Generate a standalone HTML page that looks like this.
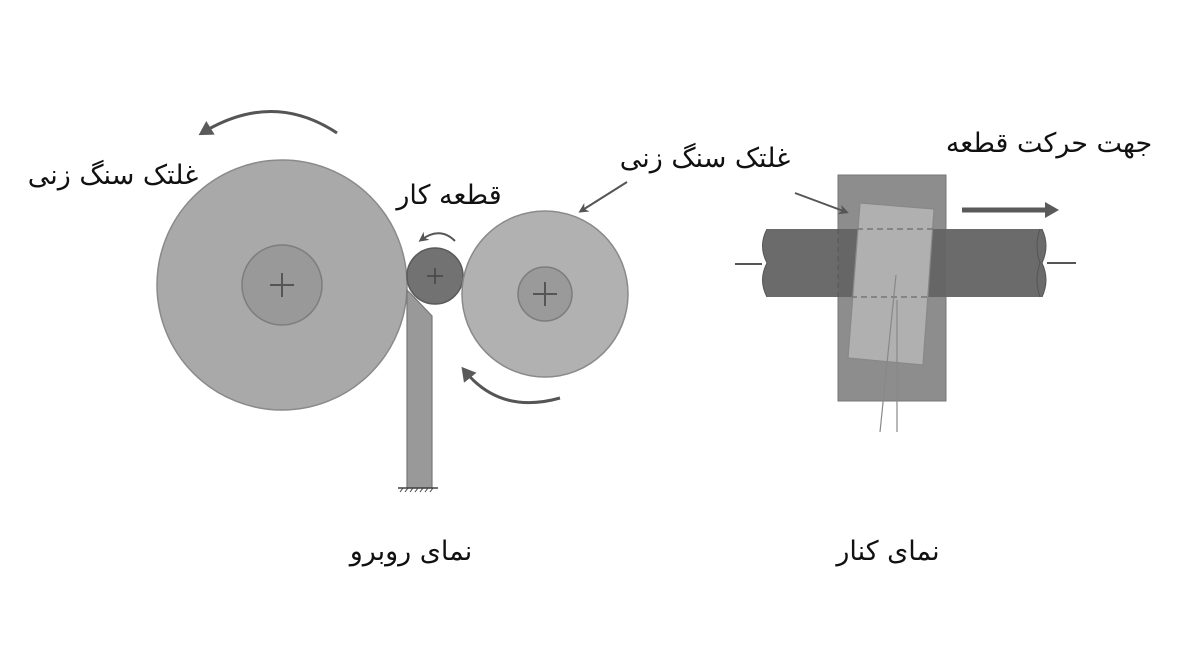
<!DOCTYPE html>
<html><head><meta charset="utf-8"><style>
html,body{margin:0;padding:0;background:#fff;}
svg{display:block;}
text{font-family:"DejaVu Sans","Noto Sans CJK SC",sans-serif;font-size:27px;fill:#111;}
</style></head><body>
<svg width="1200" height="653" viewBox="0 0 1200 653">
<defs>
<marker id="ah" markerWidth="10" markerHeight="10" refX="7" refY="5" orient="auto" markerUnits="userSpaceOnUse">
<path d="M0,0 L10,5 L0,10 L3,5 Z" fill="#555"/>
</marker>
<marker id="ah2" markerWidth="14" markerHeight="16" refX="10" refY="8" orient="auto" markerUnits="userSpaceOnUse">
<path d="M0,0 L14,8 L0,16 Z" fill="#5a5a5a"/>
</marker>
</defs>
<circle cx="282" cy="285" r="125" fill="#a9a9a9" stroke="#8a8a8a" stroke-width="1.5"/>
<circle cx="282" cy="285" r="40" fill="#999" stroke="#7d7d7d" stroke-width="1.5"/>
<path d="M270,285 H294 M282,273 V297" stroke="#555" stroke-width="2"/>
<path d="M407,290 L413,296 L432,316 L432,488 L407,488 Z" fill="#999" stroke="#777" stroke-width="1.2"/>
<path d="M398,488 H438" stroke="#444" stroke-width="1.5"/>
<path d="M400,492 l3,-4 M405,492 l3,-4 M410,492 l3,-4 M415,492 l3,-4 M420,492 l3,-4 M425,492 l3,-4 M430,492 l3,-4" stroke="#444" stroke-width="1"/>
<circle cx="435" cy="276" r="28" fill="#727272" stroke="#5a5a5a" stroke-width="1.5"/>
<path d="M427,276 H443 M435,268 V284" stroke="#444" stroke-width="1.5"/>
<circle cx="545" cy="294" r="83" fill="#b1b1b1" stroke="#8a8a8a" stroke-width="1.5"/>
<circle cx="545" cy="294" r="27" fill="#9a9a9a" stroke="#7d7d7d" stroke-width="1.5"/>
<path d="M533,294 H557 M545,282 V306" stroke="#555" stroke-width="2"/>
<path d="M337,133 Q272,90 202,133" fill="none" stroke="#555" stroke-width="3" marker-end="url(#ah2)"/>
<path d="M455,241 Q440,226 421,240" fill="none" stroke="#555" stroke-width="2" marker-end="url(#ah)"/>
<path d="M560,398 Q500,415 464,370" fill="none" stroke="#555" stroke-width="3" marker-end="url(#ah2)"/>
<path d="M627,182 L581,211" fill="none" stroke="#555" stroke-width="2" marker-end="url(#ah)"/>
<rect x="838" y="175" width="108" height="226" fill="#8d8d8d" stroke="#777"/>
<rect x="767" y="229" width="275" height="68" fill="#6b6b6b"/>
<path d="M767,229 Q758,246 767,263 Q758,280 767,297" fill="#6b6b6b" stroke="#555" stroke-width="1"/>
<path d="M1042,229 Q1050,246 1042,263 Q1050,280 1042,297" fill="#6b6b6b" stroke="#555" stroke-width="1"/>
<path d="M1040,229 Q1034,246 1040,263 M1040,263 Q1034,280 1040,297" fill="none" stroke="#555" stroke-width="1"/>
<path d="M735,264 H762 M1047,263 H1076" stroke="#555" stroke-width="2"/>
<rect x="838" y="229" width="108" height="68" fill="#666" opacity="0.9"/>
<path d="M838,229 V297" stroke="#555" stroke-dasharray="5,4"/>
<polygon points="860,203 934,209 923,365 848,358" fill="#b0b0b0" stroke="#888" stroke-width="1.2"/>
<path d="M857,229 H933 M851,297 H930" stroke="#777" stroke-width="1.5" stroke-dasharray="6,4"/>
<path d="M896,275 L880,432 M897,300 L897,432" stroke="#888" stroke-width="1.2"/>
<path d="M795,193 L846,212" stroke="#555" stroke-width="2" marker-end="url(#ah)"/>
<path d="M962,210 L1055,210" stroke="#5a5a5a" stroke-width="5" marker-end="url(#ah2)"/>
<text x="113" y="184" text-anchor="middle" direction="rtl">غلتک سنگ زنی</text>
<text x="449" y="204" text-anchor="middle" direction="rtl">قطعه کار</text>
<text x="705" y="167" text-anchor="middle" direction="rtl">غلتک سنگ زنی</text>
<text x="1049" y="152" text-anchor="middle" direction="rtl">جهت حرکت قطعه</text>
<text x="411" y="560" text-anchor="middle" direction="rtl">نمای روبرو</text>
<text x="888" y="560" text-anchor="middle" direction="rtl">نمای کنار</text>
</svg>
</body></html>
